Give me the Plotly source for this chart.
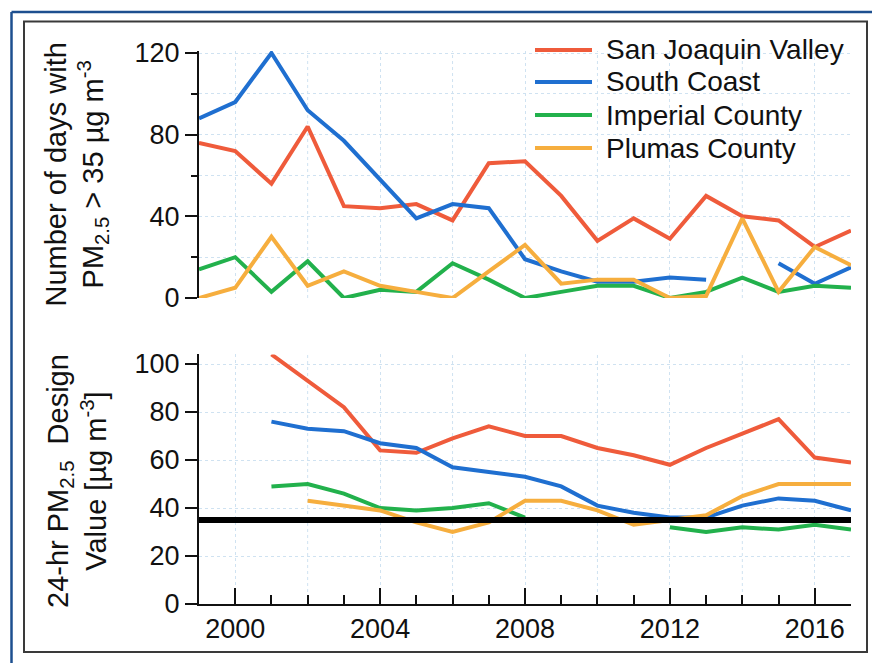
import plotly.graph_objects as go

years = list(range(1999, 2018))
names = ["San Joaquin Valley", "South Coast", "Imperial County", "Plumas County"]
colors = ["#ef5b3b", "#1f6fd0", "#22b14c", "#f6ae3e"]

# number of days with PM2.5 > 35 ug/m3
days_sjv = [76, 72, 56, 84, 45, 44, 46, 38, 66, 67, 50, 28, 39, 29, 50, 40, 38, 25, 33]
days_sc = [88, 96, 120, 92, 77, 58, 39, 46, 44, 19, 13, 8, 8, 10, 9, None, 17, 7, 15]
days_imp = [14, 20, 3, 18, 0, 4, 3, 17, 9, 0, 3, 6, 6, 0, 3, 10, 3, 6, 5]
days_plu = [0, 5, 30, 6, 13, 6, 3, 0, 13, 26, 7, 9, 9, 0, 1, 39, 3, 25, 16]

# 24-hr design values
dv_sjv = [None, None, 104, 93, 82, 64, 63, 69, 74, 70, 70, 65, 62, 58, 65, 71, 77, 61, 59]
dv_sc = [None, None, 76, 73, 72, 67, 65, 57, 55, 53, 49, 41, 38, 36, 36, 41, 44, 43, 39]
dv_imp = [None, None, 49, 50, 46, 40, 39, 40, 42, 36, None, None, None, 32, 30, 32, 31, 33, 31]
dv_plu = [None, None, None, 43, 41, 39, 34, 30, 34, 43, 43, 39, 33, 35, 37, 45, 50, 50, 50]

standard = 35

days = [days_sjv, days_sc, days_imp, days_plu]
dvs = [dv_sjv, dv_sc, dv_imp, dv_plu]

W, H = 872, 663
L, R, T, B = 199, 21, 51, 59

def px(x):
    return (x - L) / (W - L - R)

def py(y):
    return (H - B - y) / (H - T - B)

FONT = "Liberation Sans, Arial, Helvetica, sans-serif"
GRID = "#cfe2f1"

fig = go.Figure()
for name, col, d, v in zip(names, colors, days, dvs):
    fig.add_trace(go.Scatter(x=years, y=d, mode="lines", name=name, line=dict(color=col, width=4),
                             xaxis="x", yaxis="y", cliponaxis=False, showlegend=False))
    fig.add_trace(go.Scatter(x=years, y=v, mode="lines", name=name, line=dict(color=col, width=4),
                             xaxis="x2", yaxis="y2", cliponaxis=False, showlegend=False))

fig.add_trace(go.Scatter(x=[years[0], years[-1]], y=[standard, standard], mode="lines",
                         line=dict(color="black", width=6), xaxis="x2", yaxis="y2",
                         cliponaxis=False, showlegend=False))

top_dom = [(H - B - 298) / (H - T - B), 1.0]
bot_dom = [0.0, (H - B - 354.4) / (H - T - B)]

fig.update_layout(
    width=W, height=H,
    margin=dict(l=L, r=R, t=T, b=B),
    paper_bgcolor="white", plot_bgcolor="white",
    font=dict(family=FONT, color="#111", size=27),
    xaxis=dict(domain=[0, 1], range=[1999, 2017], anchor="y", showline=False, ticks="",
               showticklabels=False, tick0=2000, dtick=4, showgrid=True, gridcolor=GRID,
               griddash="dot", gridwidth=1, zeroline=False),
    yaxis=dict(domain=top_dom, range=[0, 121], anchor="x", showline=True, linecolor="#111",
               linewidth=2, ticks="outside", ticklen=12, tickwidth=2, tickcolor="#111",
               tickvals=[0, 40, 80, 120], showgrid=True, gridcolor=GRID, griddash="dot",
               zeroline=False,
               minor=dict(tickvals=[20, 60, 100], ticks="outside", ticklen=6, tickwidth=2,
                          tickcolor="#111", showgrid=True, gridcolor=GRID, griddash="dot")),
    xaxis2=dict(domain=[0, 1], range=[1999, 2017], anchor="y2", showline=True, linecolor="#111",
                linewidth=2, ticks="inside", ticklen=16, tickwidth=2, tickcolor="#111",
                tick0=2000, dtick=4, showgrid=True, gridcolor=GRID, griddash="dot",
                zeroline=False,
                minor=dict(dtick=1, ticks="inside", ticklen=9, tickwidth=2, tickcolor="#111",
                           showgrid=False)),
    yaxis2=dict(domain=bot_dom, range=[0, 104], anchor="x2", showline=True, linecolor="#111",
                linewidth=2, ticks="outside", ticklen=12, tickwidth=2, tickcolor="#111",
                tick0=0, dtick=20, showgrid=True, gridcolor=GRID, griddash="dot",
                zeroline=False),
)

shapes = []
# in-between gridlines every two years
for yr in [2002, 2006, 2010, 2014]:
    for xr, yr_ref in [("x", "y"), ("x2", "y2")]:
        shapes.append(dict(type="line", xref=xr, yref=yr_ref + " domain", x0=yr, x1=yr, y0=0, y1=1,
                           line=dict(color=GRID, width=1, dash="dot"), layer="below"))

# outer blue border and inner frame
shapes.append(dict(type="line", xref="paper", yref="paper", x0=px(11.5), x1=px(872), y0=py(12), y1=py(12),
                   line=dict(color="#1d4f8f", width=2.5)))
shapes.append(dict(type="line", xref="paper", yref="paper", x0=px(11.5), x1=px(11.5), y0=py(12), y1=py(663),
                   line=dict(color="#1d4f8f", width=2.5)))
shapes.append(dict(type="rect", xref="paper", yref="paper", x0=px(24), x1=px(867), y0=py(21.5), y1=py(652),
                   line=dict(color="#3a3a3a", width=2)))

annotations = []
# legend
rows = [50, 82, 115, 148]
for name, col, ry in zip(names, colors, rows):
    shapes.append(dict(type="line", xref="paper", yref="paper", x0=px(535), x1=px(592), y0=py(ry), y1=py(ry),
                       line=dict(color=col, width=4)))
    annotations.append(dict(xref="paper", yref="paper", x=px(604), y=py(ry), xanchor="left", yanchor="middle",
                            text=name, showarrow=False, font=dict(size=28, family=FONT, color="#111")))

annotations.append(dict(xref="paper", yref="paper", x=px(76), y=py(174.5), textangle=-90,
                        xanchor="center", yanchor="middle", showarrow=False,
                        text="Number of days with<br>PM<sub>2.5</sub> > 35 µg m<sup>-3</sup>",
                        font=dict(size=29, family=FONT, color="#111")))
annotations.append(dict(xref="paper", yref="paper", x=px(77), y=py(481), textangle=-90,
                        xanchor="center", yanchor="middle", showarrow=False,
                        text="24-hr PM<sub>2.5</sub>  Design<br>Value [µg m<sup>-3</sup>]",
                        font=dict(size=29, family=FONT, color="#111")))

fig.update_layout(shapes=shapes, annotations=annotations)

# drop the default page margin so the figure sits at the window's corner
fig.write_html("out.html", config={"displayModeBar": False},
               post_script="document.body.style.margin='0';")
